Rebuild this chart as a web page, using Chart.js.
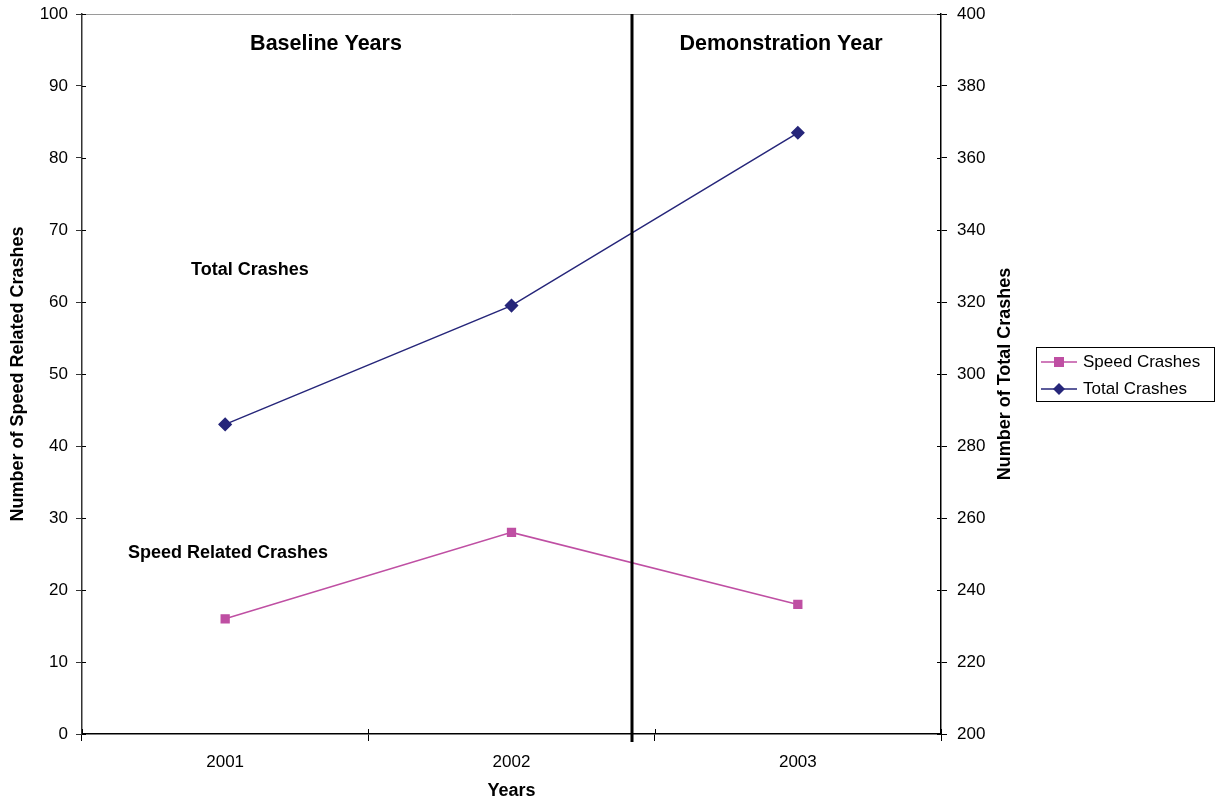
<!DOCTYPE html>
<html>
<head>
<meta charset="utf-8">
<script src="https://cdn.jsdelivr.net/npm/chart.js@4.4.1/dist/chart.umd.min.js"></script>
<style>
    html, body { margin: 0; padding: 0; background: #ffffff; }
    #wrap { width: 1219px; height: 801px; }
</style>
</head>
<body>
<div id="wrap"><canvas id="crashChart" width="1219" height="801"></canvas></div>
<script>
const years = ["2001", "2002", "2003"];
const speedCrashes = [16, 28, 18];
const totalCrashes = [286, 319, 367];
const speedTicks = [0, 10, 20, 30, 40, 50, 60, 70, 80, 90, 100];
const totalTicks = [200, 220, 240, 260, 280, 300, 320, 340, 360, 380, 400];
const phaseSplit = 1.42; // between 2002 and 2003
const phaseLabels = ["Baseline Years", "Demonstration Year"];

const FONT = "'Liberation Sans', Arial, sans-serif";
const NAVY = "#26267a";
const PINK = "#bf4fa3";

// extra drawing: frame, phase line, labels, legend box
const decorations = {
    id: "decorations",
    afterDatasetsDraw(chart) {
        const c = chart.ctx;
        const a = chart.chartArea;
        const x = chart.scales.x;
        c.save();

        // grey top border
        c.strokeStyle = "#9a9a9a";
        c.lineWidth = 1;
        c.beginPath();
        c.moveTo(a.left, a.top + 0.5);
        c.lineTo(a.right, a.top + 0.5);
        c.stroke();

        // ticks cross the axes a little (inside part)
        c.strokeStyle = "#000";
        c.lineWidth = 1;
        c.beginPath();
        chart.scales.y.ticks.forEach(t => {
            const py = Math.round(chart.scales.y.getPixelForValue(t.value)) + 0.5;
            c.moveTo(a.left, py); c.lineTo(a.left + 4, py);
        });
        chart.scales.y1.ticks.forEach(t => {
            const py = Math.round(chart.scales.y1.getPixelForValue(t.value)) + 0.5;
            c.moveTo(a.right - 4, py); c.lineTo(a.right, py);
        });
        for (let i = 0; i <= years.length; i++) {
            const px = Math.round(x.getPixelForValue(i - 0.5)) + 0.5;
            c.moveTo(px, a.bottom - 5); c.lineTo(px, a.bottom);
        }
        c.stroke();

        // phase split line
        const sx = Math.round(x.getPixelForValue(phaseSplit));
        c.strokeStyle = "#000";
        c.lineWidth = 3;
        c.beginPath();
        c.moveTo(sx, a.top);
        c.lineTo(sx, a.bottom + 8);
        c.stroke();

        c.fillStyle = "#000";
        c.textBaseline = "middle";
        c.textAlign = "center";
        c.font = "bold 21.5px " + FONT;
        c.fillText(phaseLabels[0], 326, 44);
        c.fillText(phaseLabels[1], 781, 44);

        c.font = "bold 18px " + FONT;
        c.textAlign = "left";
        c.fillText("Total Crashes", 191, 270);
        c.fillText("Speed Related Crashes", 128, 553);

        // axis titles (both read bottom to top)
        c.textAlign = "center";
        c.save();
        c.translate(18, (a.top + a.bottom) / 2);
        c.rotate(-Math.PI / 2);
        c.fillText("Number of Speed Related Crashes", 0, 0);
        c.restore();
        c.save();
        c.translate(1005, (a.top + a.bottom) / 2);
        c.rotate(-Math.PI / 2);
        c.fillText("Number of Total Crashes", 0, 0);
        c.restore();
        c.fillText("Years", (a.left + a.right) / 2, 791);

        // legend
        c.lineWidth = 1;
        c.strokeStyle = "#000";
        c.strokeRect(1036.5, 347.5, 178, 54);
        c.font = "17px " + FONT;
        c.textAlign = "left";
        chart.data.datasets.forEach((ds, i) => {
            const ly = 362 + i * 27;
            c.strokeStyle = ds.borderColor;
            c.lineWidth = 1.5;
            c.beginPath();
            c.moveTo(1041, ly);
            c.lineTo(1077, ly);
            c.stroke();
            c.fillStyle = ds.borderColor;
            if (ds.pointStyle === "rect") {
                c.fillRect(1054, ly - 5, 10, 10);
            } else {
                c.beginPath();
                c.moveTo(1059, ly - 6);
                c.lineTo(1065, ly);
                c.lineTo(1059, ly + 6);
                c.lineTo(1053, ly);
                c.closePath();
                c.fill();
            }
            c.fillStyle = "#000";
            c.fillText(ds.label, 1083, ly);
        });

        c.restore();
    }
};

const fixVertical = w => s => {
    s.width = w;
    s.paddingTop = 0;
    s.paddingBottom = 0;
};

new Chart(document.getElementById("crashChart"), {
    type: "line",
    data: {
        labels: years,
        datasets: [
            {
                label: "Speed Crashes",
                data: speedCrashes,
                yAxisID: "y",
                borderColor: PINK,
                backgroundColor: PINK,
                borderWidth: 1.5,
                pointStyle: "rect",
                pointRadius: 5.5,
                pointHoverRadius: 5.5,
                tension: 0
            },
            {
                label: "Total Crashes",
                data: totalCrashes,
                yAxisID: "y1",
                borderColor: NAVY,
                backgroundColor: NAVY,
                borderWidth: 1.5,
                pointStyle: "rectRot",
                pointRadius: 6,
                pointHoverRadius: 6,
                tension: 0
            }
        ]
    },
    options: {
        responsive: false,
        animation: false,
        layout: {
            padding: { top: 14, right: 198, bottom: 0, left: 0 }
        },
        plugins: {
            legend: { display: false },
            tooltip: { enabled: false }
        },
        scales: {
            x: {
                offset: true,
                afterFit: s => { s.height = 67; },
                grid: {
                    offset: true,
                    drawOnChartArea: false,
                    tickLength: 7,
                    color: "#000"
                },
                border: { color: "#000", width: 1.5 },
                ticks: {
                    color: "#000",
                    padding: 11,
                    font: { family: FONT, size: 17 }
                }
            },
            y: {
                position: "left",
                min: 0,
                max: 100,
                afterFit: fixVertical(82),
                afterBuildTicks: s => { s.ticks = speedTicks.map(v => ({ value: v })); },
                grid: { drawOnChartArea: false, tickLength: 6, color: "#333" },
                border: { color: "#333", width: 1.5 },
                ticks: {
                    color: "#000",
                    padding: 8,
                    font: { family: FONT, size: 17 }
                }
            },
            y1: {
                position: "right",
                min: 200,
                max: 400,
                afterFit: fixVertical(80),
                afterBuildTicks: s => { s.ticks = totalTicks.map(v => ({ value: v })); },
                grid: { drawOnChartArea: false, tickLength: 6, color: "#000" },
                border: { color: "#000", width: 1.5 },
                ticks: {
                    color: "#000",
                    padding: 10,
                    font: { family: FONT, size: 17 }
                }
            }
        }
    },
    plugins: [decorations]
});
</script>
</body>
</html>
